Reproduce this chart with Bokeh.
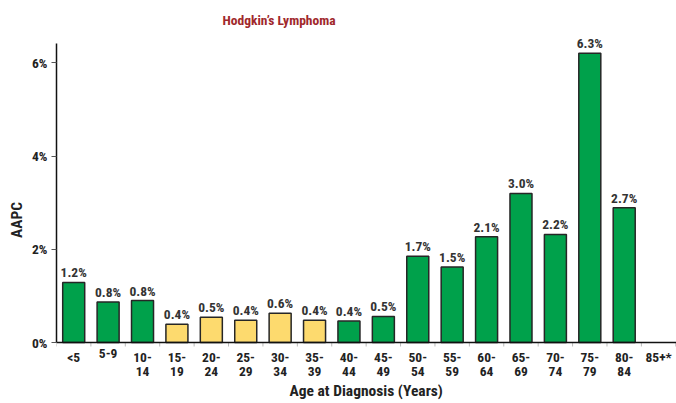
import math
from bokeh.plotting import figure
from bokeh.models import Range1d, FixedTicker, PrintfTickFormatter, ColumnDataSource, Span
from bokeh.core.properties import value
from bokeh.embed import file_html
from bokeh.resources import INLINE

# ---- data ----
categories = ["<5", "5-9", "10-14", "15-19", "20-24", "25-29", "30-34", "35-39", "40-44",
              "45-49", "50-54", "55-59", "60-64", "65-69", "70-74", "75-79", "80-84", "85+"]
tick_labels = ["<5", "5-9", "10-\n14", "15-\n19", "20-\n24", "25-\n29", "30-\n34", "35-\n39", "40-\n44",
               "45-\n49", "50-\n54", "55-\n59", "60-\n64", "65-\n69", "70-\n74", "75-\n79", "80-\n84", "85+*"]
aapc = [1.29, 0.87, 0.90, 0.39, 0.54, 0.48, 0.63, 0.48, 0.46,
        0.56, 1.85, 1.62, 2.27, 3.20, 2.32, 6.21, 2.89]
aapc_labels = ["1.2%", "0.8%", "0.8%", "0.4%", "0.5%", "0.4%", "0.6%", "0.4%", "0.4%",
               "0.5%", "1.7%", "1.5%", "2.1%", "3.0%", "2.2%", "6.3%", "2.7%"]
significant = [True, True, True, False, False, False, False, False, True,
               True, True, True, True, True, True, True, True]
y_ticks = [0, 2, 4, 6]
x_title = "Age at Diagnosis (Years)"
y_title = "AAPC"
title = "Hodgkin\u2019s Lymphoma"

GREEN = "#00A14B"
YELLOW = "#FDDA6E"
FONT = "Roboto Condensed"
TXT = "#222222"

n = len(categories)
xs = list(range(len(aapc)))
colors = [GREEN if s else YELLOW for s in significant]
src = ColumnDataSource(dict(x=xs, top=aapc, lab=aapc_labels, color=colors))
centers = list(range(n))
bounds = [c - 0.5 for c in centers] + [n - 0.5]

x_start, x_end = -0.5, n - 0.48
p = figure(width=676, height=403, output_backend="svg", toolbar_location=None,
           x_range=Range1d(x_start, x_end), y_range=Range1d(-1.309, 6.567),
           min_border_left=56, min_border_right=0, min_border_top=36, min_border_bottom=0)

p.vbar(x="x", top="top", width=0.64, source=src, fill_color="color",
       line_color="#262626", line_width=1.5)
p.text(x="x", y="top", text="lab", source=src, text_align="center", text_baseline="bottom",
       y_offset=-2, text_font=value(FONT), text_font_style="bold", text_font_size="13.5px",
       text_color="#333333")

# x axis drawn by hand: baseline, boundary ticks, category labels, axis title
p.add_layout(Span(location=0, dimension="width", line_color="#111111", line_width=1.5))
p.ray(x=bounds, y=[0] * len(bounds), length=4, length_units="screen", angle=-math.pi / 2,
      line_color="#BBBBBB", line_width=1)
p.text(x=centers, y=[0] * n, text=tick_labels, text_align="center", text_baseline="top",
       y_offset=6, text_line_height=0.9, text_font=value(FONT), text_font_style="bold",
       text_font_size="13.5px", text_color=TXT)
p.text(x=[(x_start + n - 0.5) / 2], y=[0], text=[x_title], text_align="center",
       text_baseline="middle", y_offset=48, text_font=value(FONT), text_font_style="bold",
       text_font_size="15.5px", text_color=TXT)
p.xaxis.visible = False

# title
p.title.text = title
p.title.text_color = "#A0282B"
p.title.text_font = FONT
p.title.text_font_style = "bold"
p.title.text_font_size = "13.5px"
p.title.align = "left"
p.title.offset = 166
p.title.standoff = 18

p.xgrid.visible = False
p.ygrid.visible = False
p.outline_line_color = None

# y axis
ya = p.yaxis[0]
ya.ticker = FixedTicker(ticks=y_ticks, minor_ticks=[])
ya.formatter = PrintfTickFormatter(format="%d%%")
ya.bounds = (0, 6.42)
ya.major_tick_out = 5
ya.major_tick_in = 0
ya.major_tick_line_color = "#555555"
ya.axis_line_color = "#111111"
ya.axis_line_width = 1.5
ya.major_label_text_font = FONT
ya.major_label_text_font_style = "bold"
ya.major_label_text_font_size = "13.5px"
ya.major_label_text_color = TXT
ya.major_label_standoff = 4
ya.axis_label = y_title
ya.axis_label_text_font = FONT
ya.axis_label_text_font_style = "bold"
ya.axis_label_text_font_size = "15.5px"
ya.axis_label_text_color = TXT
ya.axis_label_standoff = 3

open("out.html", "w").write(file_html(p, INLINE))
